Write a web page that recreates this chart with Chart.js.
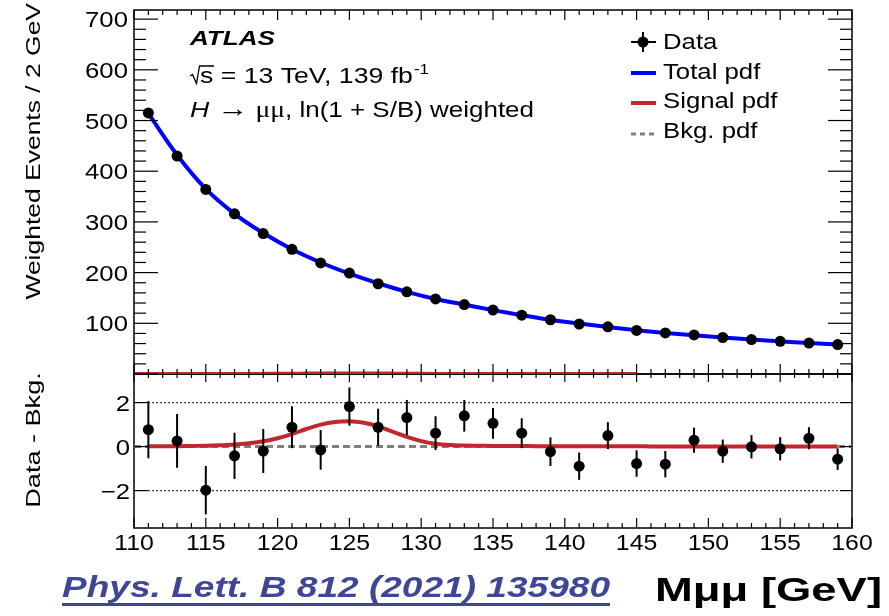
<!DOCTYPE html>
<html>
<head>
<meta charset="utf-8">
<title>H → μμ weighted mass spectrum</title>
<script src="https://cdn.jsdelivr.net/npm/chart.js@4.4.1/dist/chart.umd.min.js"></script>
<style>
  html, body { margin: 0; padding: 0; background: #fff; }
  #wrap { position: relative; width: 889px; height: 616px; }
</style>
</head>
<body>
<div id="wrap"><canvas id="massChart" width="889" height="616"></canvas></div>
<script>
// Bin centres of the 2 GeV bins
const massBins = [111, 113, 115, 117, 119, 121, 123, 125, 127, 129, 131, 133, 135,
                  137, 139, 141, 143, 145, 147, 149, 151, 153, 155, 157, 159];
// Weighted events per bin
const weightedEvents = [515, 430, 364, 316, 277, 246, 219, 199, 178, 162, 148, 137, 126,
                        116, 107, 98.6, 93, 86, 81, 77, 72, 68, 64.5, 61, 58];
// Fitted total pdf at the bin centres
const totalPdf = [514, 432, 365, 316, 278, 246, 220, 198, 179, 162, 148, 137, 126,
                  116, 107, 99.5, 92.5, 86.5, 81, 76.5, 72, 68, 64.5, 61, 58];
// Data minus background and its uncertainty
const dataMinusBkg = [0.77, 0.26, -1.98, -0.42, -0.20, 0.88, -0.15, 1.82, 0.88, 1.32, 0.61, 1.40, 1.06,
                      0.61, -0.23, -0.89, 0.50, -0.77, -0.80, 0.29, -0.21, -0.01, -0.10, 0.38, -0.57];
const dataMinusBkgErr = [1.30, 1.22, 1.10, 1.05, 1.00, 0.95, 0.90, 0.87, 0.84, 0.80, 0.77, 0.72, 0.70,
                         0.68, 0.65, 0.62, 0.61, 0.60, 0.60, 0.57, 0.53, 0.53, 0.53, 0.50, 0.49];
// Signal pdf sampled every 1 GeV
const signalMass = [111, 112, 113, 114, 115, 116, 117, 118, 119, 120, 121, 122, 123, 124, 125,
                    126, 127, 128, 129, 130, 131, 132, 133, 134, 135, 136, 137, 138, 139, 140,
                    141, 142, 143, 144, 145, 146, 147, 148, 149, 150, 151, 152, 153, 154, 155,
                    156, 157, 158, 159];
const signalPdf = [0.02, 0.02, 0.02, 0.03, 0.04, 0.06, 0.09, 0.15, 0.24, 0.38, 0.57, 0.80, 1.00, 1.12, 1.15,
                   1.08, 0.92, 0.68, 0.44, 0.25, 0.13, 0.07, 0.05, 0.04, 0.03, 0.03, 0.03, 0.02, 0.02, 0.02,
                   0.02, 0.02, 0.02, 0.02, 0.02, 0.01, 0.01, 0.01, 0.01, 0.01, 0.01, 0.01, 0.01, 0.01, 0.01,
                   0.01, 0.01, 0.01, 0.01];
// Signal pdf shown in the upper panel
const signalTopMass = [110, 145];
// Background level in the ratio panel
const bkgMass = [110, 160];
const bkgLevel = [0, 0];
// Axis ticks
const xTickLabels = [110, 115, 120, 125, 130, 135, 140, 145, 150, 155, 160];
const yTopTickLabels = [100, 200, 300, 400, 500, 600, 700];
const yBotTickLabels = [-2, 0, 2];
const ratioGuides = [-2, 2];

const BLUE = '#0000ff';
const RED = '#c1272d';
const GREY = '#7f7f7f';
const SANS = '"Liberation Sans", Arial, Helvetica, sans-serif';
const SERIF = '"Liberation Serif", "Times New Roman", serif';
const SX = 1.21; // horizontal stretch of the ROOT text

const pts = (xs, ys) => xs.map((x, i) => ({ x: x, y: ys[i] }));

// text stretched horizontally, returns advance in px
function drawText(ctx, str, x, y, font, sx, align, color) {
  ctx.save();
  ctx.font = font;
  ctx.fillStyle = color || '#000';
  ctx.textBaseline = 'alphabetic';
  ctx.textAlign = 'left';
  const w = ctx.measureText(str).width * sx;
  let x0 = x;
  if (align === 'right') x0 = x - w;
  else if (align === 'center') x0 = x - w / 2;
  ctx.translate(x0, y);
  ctx.scale(sx, 1);
  ctx.fillText(str, 0, 0);
  ctx.restore();
  return w;
}

function textWidth(ctx, str, font) {
  ctx.save();
  ctx.font = font;
  const w = ctx.measureText(str).width;
  ctx.restore();
  return w;
}

// vertical title reading bottom to top
function drawVertical(ctx, str, baseX, y, font, sx, align) {
  ctx.save();
  ctx.translate(baseX, y);
  ctx.rotate(-Math.PI / 2);
  drawText(ctx, str, 0, 0, font, sx, align);
  ctx.restore();
}

function line(ctx, x1, y1, x2, y2) {
  ctx.beginPath();
  ctx.moveTo(x1, y1);
  ctx.lineTo(x2, y2);
  ctx.stroke();
}

const rootFrame = {
  id: 'rootFrame',
  beforeDatasetsDraw(chart) {
    const { ctx } = chart;
    const x = chart.scales.x, yt = chart.scales.yTop, yb = chart.scales.yBot;
    ctx.save();
    ctx.strokeStyle = '#000';
    ctx.lineWidth = 1.5;
    ctx.strokeRect(x.left, yt.top, x.right - x.left, yt.bottom - yt.top);
    ctx.strokeRect(x.left, yb.top, x.right - x.left, yb.bottom - yb.top);
    // dotted guides at +-2
    ctx.lineWidth = 1.3;
    ctx.setLineDash([1.5, 2.5]);
    ratioGuides.forEach(v => {
      const py = yb.getPixelForValue(v);
      line(ctx, x.getPixelForValue(massBins[0]), py, x.getPixelForValue(massBins[massBins.length - 1]), py);
    });
    ctx.restore();
  },
  afterDatasetsDraw(chart) {
    const { ctx } = chart;
    const x = chart.scales.x, yt = chart.scales.yTop, yb = chart.scales.yBot;
    const L = x.left, R = x.right;
    ctx.save();
    ctx.strokeStyle = '#000';

    // error bars of the ratio panel
    ctx.lineWidth = 2;
    massBins.forEach((m, i) => {
      const px = x.getPixelForValue(m);
      line(ctx, px, yb.getPixelForValue(dataMinusBkg[i] - dataMinusBkgErr[i]),
               px, yb.getPixelForValue(dataMinusBkg[i] + dataMinusBkgErr[i]));
    });

    // inward ticks
    ctx.lineWidth = 1.2;
    for (let m = 110; m <= 160; m++) {
      const px = x.getPixelForValue(m);
      const major = m % 5 === 0;
      const t = major ? 10 : 5;
      line(ctx, px, yt.top, px, yt.top + t);
      line(ctx, px, yt.bottom, px, yt.bottom - t);
      line(ctx, px, yb.top, px, yb.top + (major ? 8 : 4));
      line(ctx, px, yb.bottom, px, yb.bottom - t);
    }
    for (let v = 0; v <= 700; v += 20) {
      const py = yt.getPixelForValue(v);
      const t = v % 100 === 0 ? 24 : 12;
      line(ctx, L, py, L + t, py);
      line(ctx, R, py, R - t, py);
    }
    yBotTickLabels.forEach(v => {
      const py = yb.getPixelForValue(v);
      line(ctx, L, py, L + 14, py);
      line(ctx, R, py, R - 12, py);
    });
    ctx.restore();
  },
  afterDraw(chart) {
    const { ctx } = chart;
    const x = chart.scales.x, yt = chart.scales.yTop, yb = chart.scales.yBot;
    const tickFont = '22px ' + SANS;

    xTickLabels.forEach(v => drawText(ctx, String(v), x.getPixelForValue(v), 550, tickFont, 1.13, 'center'));
    yTopTickLabels.forEach(v => drawText(ctx, String(v), 128, yt.getPixelForValue(v) + 8, tickFont, 1.17, 'right'));
    yBotTickLabels.forEach(v => drawText(ctx, (v < 0 ? '\u2212' : '') + Math.abs(v), 130, yb.getPixelForValue(v) + 8, tickFont, 1.17, 'right'));

    drawVertical(ctx, 'Weighted Events / 2 GeV', 40, 3, '21px ' + SANS, 1.26, 'right');
    drawVertical(ctx, 'Data - Bkg.', 40, 440, '21px ' + SANS, 1.29, 'center');

    // experiment label
    drawText(ctx, 'ATLAS', 190, 45, 'italic bold 21px ' + SANS, 1.24, 'left');

    // sqrt(s) line with a drawn radical
    ctx.save();
    ctx.strokeStyle = '#000';
    ctx.lineWidth = 1.3;
    ctx.beginPath();
    ctx.moveTo(190, 76);
    ctx.lineTo(192.5, 74.5);
    ctx.lineTo(196.5, 83.5);
    ctx.lineTo(199.5, 66);
    ctx.lineTo(214, 66);
    ctx.stroke();
    ctx.restore();
    let cx = 200;
    cx += drawText(ctx, 's = 13 TeV, 139 fb', cx, 83, '22px ' + SANS, SX, 'left');
    drawText(ctx, '-1', cx + 1, 74, '14px ' + SANS, SX, 'left');

    // process line
    cx = 190;
    cx += drawText(ctx, 'H', cx, 117, 'italic 22px ' + SANS, SX, 'left');
    cx += 8;
    cx += drawText(ctx, '\u2192', cx, 117, '25px ' + SERIF, 1.25, 'left');
    cx += 7;
    cx += drawText(ctx, '\u03bc\u03bc', cx, 117, '23px ' + SERIF, 1.2, 'left');
    drawText(ctx, ', ln(1 + S/B) weighted', cx, 117, '22px ' + SANS, 1.18, 'left');

    // legend
    ctx.save();
    ctx.strokeStyle = '#000';
    ctx.fillStyle = '#000';
    ctx.lineWidth = 2;
    line(ctx, 631, 42, 656, 42);
    line(ctx, 643, 32, 643, 52);
    ctx.beginPath();
    ctx.arc(643, 42, 5.5, 0, Math.PI * 2);
    ctx.fill();
    ctx.lineWidth = 4;
    ctx.strokeStyle = BLUE;
    line(ctx, 631, 73, 656, 73);
    ctx.strokeStyle = RED;
    line(ctx, 631, 103, 656, 103);
    ctx.strokeStyle = GREY;
    ctx.lineWidth = 3;
    ctx.setLineDash([5, 4]);
    line(ctx, 631, 134, 656, 134);
    ctx.restore();
    const legFont = '22px ' + SANS;
    drawText(ctx, 'Data', 663, 49, legFont, 1.17, 'left');
    drawText(ctx, 'Total pdf', 663, 79, legFont, 1.17, 'left');
    drawText(ctx, 'Signal pdf', 663, 108, legFont, 1.17, 'left');
    drawText(ctx, 'Bkg. pdf', 663, 138, legFont, 1.17, 'left');

    // reference and axis caption below the plot
    const refText = 'Phys. Lett. B 812 (2021) 135980';
    const refFont = 'italic bold 30px ' + SANS;
    const refSx = 548 / textWidth(ctx, refText, refFont);
    drawText(ctx, refText, 62, 597, refFont, refSx, 'left', '#3f4696');
    ctx.save();
    ctx.fillStyle = '#3f4696';
    ctx.fillRect(62, 603, 548, 3);
    ctx.restore();
    const capText = 'M\u03bc\u03bc [GeV]';
    const capFont = 'bold 34px ' + SANS;
    drawText(ctx, capText, 655, 601, capFont, 227 / textWidth(ctx, capText, capFont), 'left');
  }
};

const curve = (color, width) => ({
  showLine: true,
  borderColor: color,
  borderWidth: width,
  pointRadius: 0,
  fill: false,
  cubicInterpolationMode: 'monotone'
});

new Chart(document.getElementById('massChart'), {
  type: 'scatter',
  data: {
    datasets: [
      {
        label: 'Data',
        data: pts(massBins, weightedEvents),
        yAxisID: 'yTop',
        pointRadius: 5.5,
        pointBackgroundColor: '#000',
        pointBorderWidth: 0
      },
      {
        label: 'Data - Bkg.',
        data: pts(massBins, dataMinusBkg),
        yAxisID: 'yBot',
        pointRadius: 5.5,
        pointBackgroundColor: '#000',
        pointBorderWidth: 0
      },
      Object.assign({
        label: 'Signal pdf',
        data: pts(signalMass, signalPdf),
        yAxisID: 'yBot'
      }, curve(RED, 4)),
      Object.assign({
        label: 'Bkg. pdf',
        data: pts(bkgMass, bkgLevel),
        yAxisID: 'yBot',
        borderDash: [7, 4]
      }, curve(GREY, 3)),
      Object.assign({
        label: 'Signal pdf (upper)',
        data: [{ x: signalTopMass[0], y: signalPdf[0] }]
          .concat(pts(signalMass, signalPdf).filter(p => p.x <= signalTopMass[1])),
        yAxisID: 'yTop'
      }, curve(RED, 4)),
      Object.assign({
        label: 'Total pdf',
        data: pts(massBins, totalPdf),
        yAxisID: 'yTop'
      }, curve(BLUE, 4))
    ]
  },
  options: {
    responsive: false,
    animation: false,
    events: [],
    layout: { padding: { top: 10, right: 37, left: 0, bottom: 0 } },
    plugins: { legend: { display: false }, tooltip: { enabled: false } },
    scales: {
      x: {
        type: 'linear', min: 110, max: 160, position: 'bottom',
        afterFit(s) { s.height = 88; },
        ticks: { display: false }, grid: { display: false }, border: { display: false }
      },
      // left boxes are stacked in reverse order: the ratio panel is listed first
      yBot: {
        type: 'linear', position: 'left', stack: 'panels', stackWeight: 154,
        min: -3.7, max: 3.3,
        afterFit(s) { s.width = 134; },
        ticks: { display: false }, grid: { display: false }, border: { display: false }
      },
      yTop: {
        type: 'linear', position: 'left', stack: 'panels', stackWeight: 364,
        min: 0, max: 718,
        afterFit(s) { s.width = 134; },
        ticks: { display: false }, grid: { display: false }, border: { display: false }
      }
    }
  },
  plugins: [rootFrame]
});
</script>
</body>
</html>
